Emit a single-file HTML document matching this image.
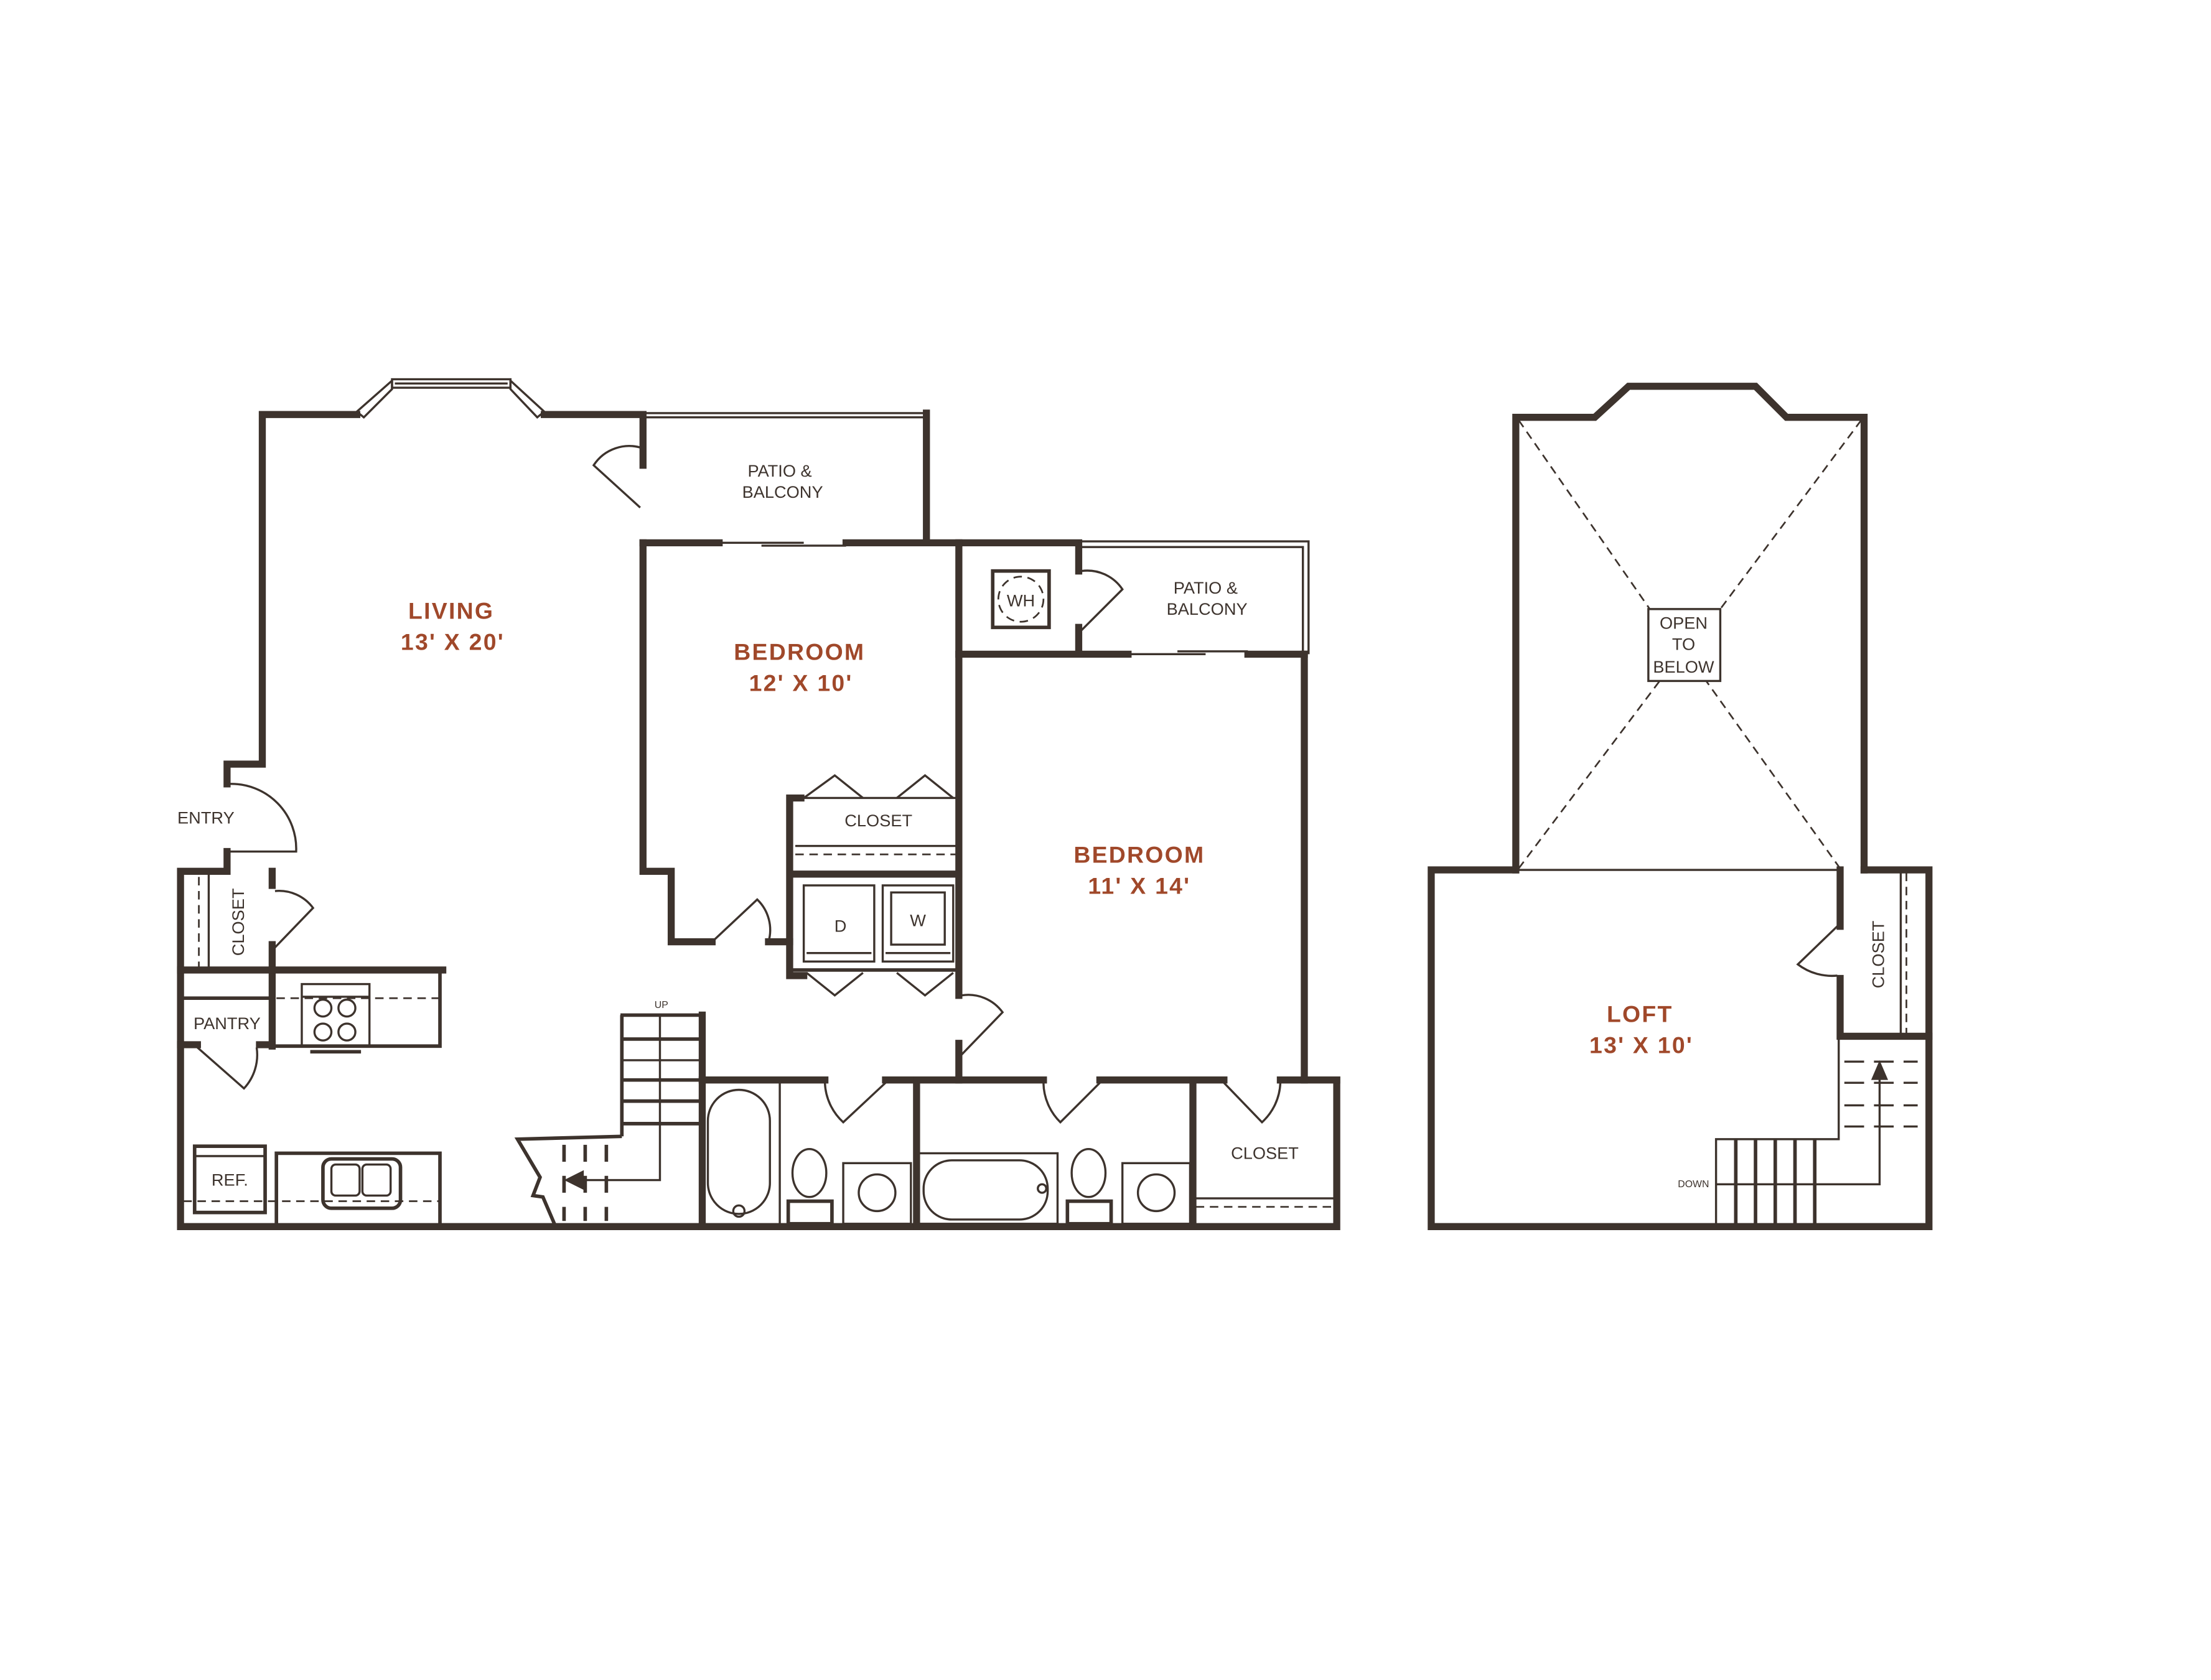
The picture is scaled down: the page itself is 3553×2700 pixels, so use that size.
<!DOCTYPE html>
<html><head><meta charset="utf-8"><style>
html,body{margin:0;padding:0;background:#fff;}
svg{display:block;}
.w{stroke:#3d332d;stroke-width:5;fill:none;stroke-linecap:square;}
.t{stroke:#3d332d;stroke-width:1.5;fill:none;}
.m{stroke:#3d332d;stroke-width:2.5;fill:none;}
.d{stroke:#3d332d;stroke-width:1.2;fill:none;stroke-dasharray:6,4;}
.lbl{font-family:"Liberation Sans",sans-serif;font-size:12px;fill:#3d332d;text-anchor:middle;}
.rm{font-family:"Liberation Sans",sans-serif;font-weight:bold;font-size:16.5px;fill:#a0482a;text-anchor:middle;letter-spacing:1px;}
</style></head><body>
<svg width="3553" height="2700" viewBox="0 0 1568 1191.6" xmlns="http://www.w3.org/2000/svg">
<rect width="1568" height="1191.6" fill="#fff"/>
<polyline class="w" points="161,604 161,618 128,618 128,870 948,870 948,766"/>
<polyline class="w" points="161,556 161,542 186,542 186,294 253,294"/>
<polyline class="w" points="386,294 456,294 456,330"/>
<polygon class="t" points="253,292 278,270 278,276 258,296"/>
<polygon class="t" points="362,270 386,292 381,296 362,276"/>
<rect x="278" y="269" width="84" height="6" class="t"/>
<line x1="280" y1="272" x2="360" y2="272" class="t"/>
<polyline class="w" points="456,385 456,618 476,618 476,668 505,668"/>
<line x1="545" y1="668" x2="560" y2="668" class="w"/>
<path class="t" d="M456,318 A30,30 0 0 0 421,330 L454,360"/>
<line x1="456" y1="293" x2="657" y2="293" class="t"/>
<line x1="456" y1="296" x2="655" y2="296" class="t"/>
<polyline class="w" points="657,293 657,385 600,385"/>
<line x1="456" y1="385" x2="510" y2="385" class="w"/>
<line x1="510" y1="385" x2="570" y2="385" class="t"/>
<line x1="540" y1="387" x2="600" y2="387" class="t"/>
<text class="lbl" x="553" y="338">PATIO &amp;</text>
<text class="lbl" x="555" y="353">BALCONY</text>
<polyline class="w" points="657,385 680,385 765,385 765,405"/>
<line x1="765" y1="445" x2="765" y2="464" class="w"/>
<line x1="680" y1="385" x2="680" y2="706" class="w"/>
<line x1="680" y1="740" x2="680" y2="766" class="w"/>
<path class="t" d="M505,668 L537,638 A30,30 0 0 1 545,668"/>
<polyline class="w" points="568,566 560,566 560,692 570,692"/>
<line x1="562" y1="620" x2="680" y2="620" class="w"/>
<line x1="562" y1="566" x2="680" y2="566" class="t"/>
<line x1="564" y1="600" x2="680" y2="600" class="t"/>
<line x1="564" y1="606" x2="680" y2="606" class="d"/>
<polyline class="t" points="570,566 592,550 612,566"/>
<polyline class="t" points="636,566 656,550 676,566"/>
<text class="lbl" x="623" y="586">CLOSET</text>
<line x1="562" y1="688" x2="680" y2="688" class="m"/>
<rect x="570" y="628" width="50" height="54" class="t"/>
<rect x="626" y="628" width="50" height="54" class="t"/>
<line x1="572" y1="676" x2="618" y2="676" class="t"/>
<line x1="628" y1="676" x2="674" y2="676" class="t"/>
<rect x="632" y="633" width="38" height="37" class="t"/>
<text class="lbl" x="596" y="661">D</text>
<text class="lbl" x="651" y="657">W</text>
<polyline class="t" points="572,690 592,706 612,690"/>
<polyline class="t" points="636,690 656,706 676,690"/>
<line x1="680" y1="464" x2="800" y2="464" class="w"/>
<line x1="885" y1="464" x2="925" y2="464" class="w"/>
<line x1="800" y1="464" x2="855" y2="464" class="t"/>
<line x1="835" y1="462" x2="885" y2="462" class="t"/>
<rect x="704" y="405" width="40" height="40" class="m"/>
<circle cx="724" cy="425" r="16" class="d"/>
<text class="lbl" x="724" y="430">WH</text>
<path class="t" d="M767,405 A30,30 0 0 1 796,418 L767,447"/>
<polyline class="t" points="765,384 928,384 928,464"/>
<polyline class="t" points="767,388 924,388 924,462"/>
<text class="lbl" x="855" y="421">PATIO &amp;</text>
<text class="lbl" x="856" y="436">BALCONY</text>
<line x1="925" y1="464" x2="925" y2="766" class="w"/>
<path class="t" d="M682,706 A30,30 0 0 1 711,718 L682,748"/>
<line x1="498" y1="766" x2="585" y2="766" class="w"/>
<line x1="628" y1="766" x2="740" y2="766" class="w"/>
<line x1="780" y1="766" x2="868" y2="766" class="w"/>
<line x1="908" y1="766" x2="948" y2="766" class="w"/>
<line x1="498" y1="720" x2="498" y2="870" class="w"/>
<line x1="650" y1="766" x2="650" y2="870" class="w"/>
<line x1="846" y1="766" x2="846" y2="870" class="w"/>
<path class="t" d="M585,768 A40,40 0 0 0 598,796 L628,768"/>
<path class="t" d="M740,768 A40,40 0 0 0 752,796 L780,768"/>
<path class="t" d="M868,768 L895,796 A40,40 0 0 0 908,768"/>
<line x1="553" y1="768" x2="553" y2="868" class="t"/>
<rect x="502" y="773" width="44" height="88" rx="22" class="t"/>
<circle cx="524" cy="859" r="4" class="t"/>
<ellipse cx="574" cy="832" rx="12" ry="17" class="t"/>
<rect x="559" y="852" width="31" height="16" class="m"/>
<rect x="598" y="825" width="48" height="43" class="t"/>
<circle cx="622" cy="846" r="13" class="t"/>
<rect x="650" y="818" width="100" height="50" class="t"/>
<rect x="655" y="823" width="88" height="42" rx="20" class="t"/>
<circle cx="739" cy="843" r="3" class="t"/>
<ellipse cx="772" cy="832" rx="12" ry="17" class="t"/>
<rect x="757" y="852" width="31" height="16" class="m"/>
<rect x="796" y="825" width="48" height="43" class="t"/>
<circle cx="820" cy="846" r="13" class="t"/>
<line x1="848" y1="850" x2="946" y2="850" class="t"/>
<line x1="848" y1="856" x2="946" y2="856" class="d"/>
<text class="lbl" x="897" y="822">CLOSET</text>
<polyline class="m" points="440,720 497,720"/>
<line x1="441" y1="720" x2="441" y2="806" class="m"/>
<line x1="441" y1="737" x2="496" y2="737" class="m"/>
<line x1="441" y1="752" x2="496" y2="752" class="t"/>
<line x1="441" y1="766" x2="496" y2="766" class="m"/>
<line x1="441" y1="781" x2="496" y2="781" class="m"/>
<line x1="441" y1="797" x2="496" y2="797" class="m"/>
<polyline class="t" points="468,720 468,837 412,837"/>
<polygon points="400,837 414,830 414,844" fill="#3d332d"/>
<polyline class="m" points="441,806 367,808 383,835 378,848 385,849 394,870"/>
<line x1="400" y1="812" x2="400" y2="866" class="m" stroke-dasharray="12,10"/>
<line x1="415" y1="812" x2="415" y2="866" class="m" stroke-dasharray="12,10"/>
<line x1="430" y1="812" x2="430" y2="866" class="m" stroke-dasharray="12,10"/>
<text class="lbl" x="469" y="715" style="font-size:7px">UP</text>
<line x1="193" y1="618" x2="193" y2="628" class="w"/>
<line x1="193" y1="670" x2="193" y2="742" class="w"/>
<line x1="128" y1="688" x2="314" y2="688" class="w"/>
<line x1="148" y1="620" x2="148" y2="686" class="t"/>
<line x1="141" y1="622" x2="141" y2="686" class="d"/>
<path class="t" d="M195,632 A30,30 0 0 1 222,644 L195,672"/>
<text class="lbl" transform="translate(173,654) rotate(-90)">CLOSET</text>
<line x1="130" y1="708" x2="191" y2="708" class="m"/>
<line x1="128" y1="741" x2="140" y2="741" class="w"/>
<line x1="184" y1="741" x2="193" y2="741" class="w"/>
<path class="t" d="M140,743 L173,772 A35,35 0 0 0 182,743"/>
<text class="lbl" x="161" y="730">PANTRY</text>
<polyline class="m" points="195,688 312,688 312,742 195,742"/>
<line x1="196" y1="708" x2="311" y2="708" class="d"/>
<rect x="214" y="698" width="48" height="44" class="t"/>
<line x1="214" y1="707" x2="262" y2="707" class="t"/>
<circle cx="229" cy="715" r="6" class="t"/><circle cx="246" cy="715" r="6" class="t"/>
<circle cx="229" cy="732" r="6" class="t"/><circle cx="246" cy="732" r="6" class="t"/>
<line x1="220" y1="746" x2="256" y2="746" class="m"/>
<rect x="138" y="813" width="50" height="47" class="m"/>
<line x1="138" y1="820" x2="188" y2="820" class="t"/>
<text class="lbl" x="163" y="841">REF.</text>
<polyline class="m" points="196,868 196,818 312,818 312,868"/>
<line x1="130" y1="852" x2="311" y2="852" class="d"/>
<rect x="229" y="822" width="55" height="35" rx="6" class="m"/>
<rect x="235" y="826" width="20" height="22" rx="3" class="t"/>
<rect x="257" y="826" width="20" height="22" rx="3" class="t"/>
<path class="t" d="M163,556 A46,46 0 0 1 210,604 L163,604"/>
<text class="lbl" x="146" y="584">ENTRY</text>
<text class="rm" x="320" y="439">LIVING</text>
<text class="rm" x="321" y="461">13' X 20'</text>
<text class="rm" x="567" y="468">BEDROOM</text>
<text class="rm" x="568" y="490">12' X 10'</text>
<text class="rm" x="808" y="612">BEDROOM</text>
<text class="rm" x="808" y="634">11' X 14'</text>
<polyline class="w" points="1075,617 1075,296 1131,296 1155,274 1245,274 1267,296 1322,296 1322,617"/>
<polyline class="w" points="1322,617 1368,617 1368,870 1015,870 1015,617 1075,617"/>
<line x1="1075" y1="617" x2="1305" y2="617" class="t"/>
<line x1="1077" y1="298" x2="1170" y2="432" class="d"/>
<line x1="1320" y1="298" x2="1220" y2="432" class="d"/>
<line x1="1077" y1="616" x2="1177" y2="483" class="d"/>
<line x1="1305" y1="616" x2="1210" y2="483" class="d"/>
<rect x="1169" y="432" width="51" height="51" fill="#fff" class="t"/>
<text class="lbl" x="1194" y="446">OPEN</text>
<text class="lbl" x="1194" y="461">TO</text>
<text class="lbl" x="1194" y="477">BELOW</text>
<polyline class="w" points="1305,617 1305,657"/>
<polyline class="w" points="1305,694 1305,735 1368,735"/>
<line x1="1348" y1="619" x2="1348" y2="733" class="t"/>
<line x1="1352" y1="619" x2="1352" y2="733" class="d"/>
<path class="t" d="M1303,657 L1275,684 A40,40 0 0 0 1303,692"/>
<text class="lbl" transform="translate(1336,677) rotate(-90)">CLOSET</text>
<polyline class="t" points="1217,868 1217,808 1304,808 1304,737"/>
<line x1="1231" y1="808" x2="1231" y2="868" class="m"/>
<line x1="1245" y1="808" x2="1245" y2="868" class="m"/>
<line x1="1259" y1="808" x2="1259" y2="868" class="m"/>
<line x1="1273" y1="808" x2="1273" y2="868" class="m"/>
<line x1="1287" y1="808" x2="1287" y2="868" class="m"/>
<line x1="1308" y1="753" x2="1360" y2="753" class="t" stroke-dasharray="14,7"/>
<line x1="1308" y1="768" x2="1360" y2="768" class="t" stroke-dasharray="14,7"/>
<line x1="1308" y1="784" x2="1360" y2="784" class="t" stroke-dasharray="14,7"/>
<line x1="1308" y1="799" x2="1360" y2="799" class="t" stroke-dasharray="14,7"/>
<polyline class="t" points="1217,840 1333,840 1333,760"/>
<polygon points="1333,752 1327,766 1339,766" fill="#3d332d"/>
<text class="lbl" x="1201" y="842" style="font-size:7px">DOWN</text>
<text class="rm" x="1163" y="725">LOFT</text>
<text class="rm" x="1164" y="747">13' X 10'</text>
</svg>
</body></html>
